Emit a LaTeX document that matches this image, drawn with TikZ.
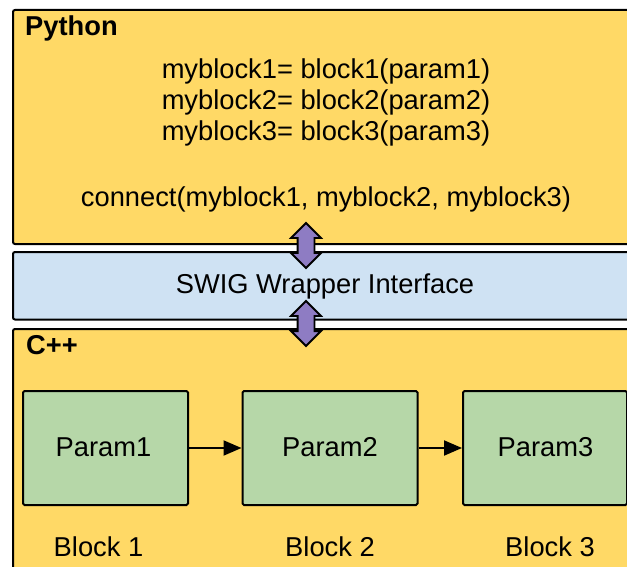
\documentclass[tikz,border=0pt]{standalone}
\usepackage{fontspec}
\setmainfont{Liberation Sans}
\usetikzlibrary{shapes.arrows,arrows.meta}
\definecolor{pyyellow}{HTML}{FFD966}
\definecolor{swigblue}{HTML}{CFE2F3}
\definecolor{blockgreen}{HTML}{B6D7A8}
\definecolor{linkpurple}{HTML}{8E7CC3}

\tikzset{
    layer/.style={draw=black, line width=2pt, rounded corners=2pt, anchor=north west, inner sep=0pt},
    block/.style={draw=black, line width=2pt, rounded corners=1.5pt, fill=blockgreen, anchor=north west,
        inner sep=0pt, minimum height=114pt},
    txt/.style={font=\fontsize{27.3}{31}\selectfont, inner sep=0pt, anchor=base},
    title/.style={font=\fontsize{27.3}{31}\selectfont\bfseries, inner sep=0pt, anchor=base west},
    link/.style={double arrow, draw=black, line width=1.8pt, fill=linkpurple, rotate=90,
        inner xsep=0pt, inner ysep=7.5pt, minimum height=45pt, double arrow head extend=6.5pt},
    flow/.style={-{Triangle[length=18pt,width=15pt]}, line width=2pt}
}

\begin{document}
\begin{tikzpicture}[x=1pt,y=-1pt]
    \useasboundingbox (0,0) rectangle (627,567);
    \clip (0,0) rectangle (627,567);
    % Python layer
    \node[layer, fill=pyyellow, minimum width=640pt, minimum height=234pt] (python) at (12,9) {};
    \node[title] (pytitle) at (25,36) {Python};
    \node[txt] (line1) at (326,79) {myblock1= block1(param1)};
    \node[txt] (line2) at (326,110) {myblock2= block2(param2)};
    \node[txt] (line3) at (326,141) {myblock3= block3(param3)};
    \node[txt] (connect) at (326,207) {connect(myblock1, myblock2, myblock3)};
    % SWIG layer
    \node[layer, fill=swigblue, minimum width=640pt, minimum height=67.5pt] (swig) at (12,251) {};
    \node[txt] (swigtext) at (325,293) {SWIG Wrapper Interface};
    % C++ layer
    \node[layer, fill=pyyellow, minimum width=640pt, minimum height=280pt] (cpp) at (12,328) {};
    \node[title] (cpptitle) at (26,354) {C++};
    % Blocks
    \node[block, minimum width=165pt] (p1) at (22,390) {};
    \node[block, minimum width=175pt] (p2) at (241.5,390) {};
    \node[block, minimum width=164pt] (p3) at (462,390) {};
    \node[txt] at (103.5,456) {Param1};
    \node[txt] at (330,456) {Param2};
    \node[txt] at (545.5,456) {Param3};
    \node[txt] (b1) at (98.5,556.5) {Block 1};
    \node[txt] (b2) at (330,556.5) {Block 2};
    \node[txt] (b3) at (550,556.5) {Block 3};
    \draw[flow] (p1.east) -- (p2.west);
    \draw[flow] (p2.east) -- (p3.west);
    % Links between layers
    \node[link] (pylink) at (306,245.5) {};
    \node[link] (cpplink) at (306,323.5) {};
\end{tikzpicture}
\end{document}
